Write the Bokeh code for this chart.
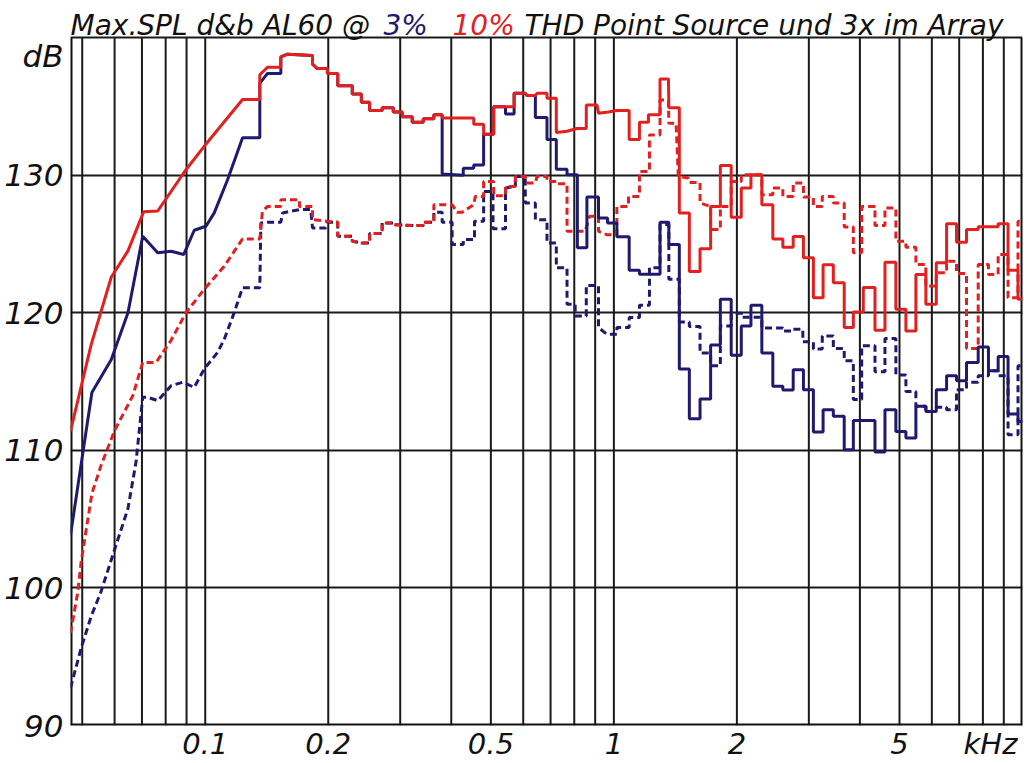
from bokeh.plotting import figure
from bokeh.models import FixedTicker, Label
from bokeh.embed import file_html
from bokeh.resources import INLINE

# ---- data: (frequency in kHz, level in dB) vertices ----
# red solid: 10 % THD, 3x in array
red_solid = [
    (0.0468, 111.4), (0.0526, 117.7), (0.0589, 122.6), (0.0647, 124.5), (0.0707, 127.35),
    (0.0765, 127.4), (0.0897, 130.4), (0.0994, 132.1), (0.1234, 135.5), (0.136, 135.5),
    (0.136, 137.3), (0.142, 137.85), (0.1531, 137.85), (0.1531, 138.6), (0.159, 138.8),
    (0.183, 138.7), (0.183, 138.07), (0.188, 137.75), (0.199, 137.75), (0.199, 137.4),
    (0.211, 137.4), (0.211, 136.5), (0.229, 136.5), (0.229, 135.9), (0.241, 135.9),
    (0.241, 135.3), (0.2525, 135.3), (0.2525, 134.7), (0.271, 134.7), (0.271, 134.9),
    (0.2885, 134.9), (0.2885, 134.6), (0.3035, 134.6), (0.3035, 134.25), (0.321, 134.25),
    (0.321, 133.85), (0.3416, 133.85), (0.3416, 134.1), (0.3626, 134.1), (0.3626, 134.4),
    (0.380, 134.4), (0.380, 134.15), (0.454, 134.15), (0.454, 133.7), (0.480, 133.7),
    (0.480, 132.98), (0.508, 132.98), (0.508, 134.97), (0.570, 134.97), (0.570, 135.95),
    (0.607, 135.95), (0.613, 135.8), (0.6425, 135.8), (0.6485, 135.95), (0.686, 135.95),
    (0.686, 135.6), (0.723, 135.6), (0.723, 133.1), (0.768, 133.2), (0.812, 133.4),
    (0.856, 133.4), (0.856, 135.1), (0.909, 135.1), (0.917, 134.5), (0.970, 134.6),
    (1.017, 134.7), (1.090, 134.7), (1.090, 132.6), (1.155, 132.6), (1.155, 133.85),
    (1.215, 133.85), (1.215, 134.4), (1.297, 134.4), (1.297, 137.0), (1.360, 137.0),
    (1.363, 134.9), (1.446, 134.9), (1.446, 127.25), (1.530, 127.25), (1.530, 123.0),
    (1.625, 123.0), (1.625, 124.65), (1.725, 124.65), (1.725, 127.73), (1.822, 127.73),
    (1.822, 130.7), (1.937, 130.7), (1.937, 126.94), (2.050, 126.94), (2.050, 129.07),
    (2.165, 129.07), (2.165, 130.03), (2.302, 130.03), (2.302, 127.86), (2.449, 127.86),
    (2.449, 125.37), (2.591, 125.37), (2.591, 124.76), (2.747, 124.76), (2.747, 125.54),
    (2.910, 125.54), (2.910, 124.0), (3.078, 124.0), (3.078, 121.1), (3.251, 121.1),
    (3.251, 123.5), (3.444, 123.5), (3.444, 122.19), (3.662, 122.19), (3.662, 118.93),
    (3.855, 118.93), (3.855, 120.06), (4.077, 120.06), (4.077, 121.83), (4.355, 121.83),
    (4.355, 118.73), (4.607, 118.73), (4.607, 123.68), (4.899, 123.68), (4.899, 120.25),
    (5.184, 120.25), (5.184, 118.68), (5.484, 118.68), (5.484, 122.79), (5.801, 122.79),
    (5.801, 120.62), (6.152, 120.62), (6.152, 123.63), (6.520, 123.63), (6.520, 126.48),
    (6.895, 126.48), (6.895, 125.13), (7.295, 125.13), (7.295, 126.05), (7.791, 126.05),
    (7.791, 126.26), (8.718, 126.26), (8.718, 126.48), (9.218, 126.48), (9.218, 123.1),
    (9.750, 123.1), (9.750, 120.98), (10.0, 120.98),
]

# blue solid: 3 % THD, 3x in array
blue_solid = [
    (0.0468, 103.84), (0.0528, 114.2), (0.0589, 116.6), (0.0647, 120.0), (0.0703, 125.56),
    (0.0765, 124.36), (0.0825, 124.47), (0.0886, 124.24), (0.094, 126.0), (0.1004, 126.29),
    (0.1052, 127.26), (0.1134, 129.67), (0.1234, 132.73), (0.136, 132.73), (0.136, 136.67),
    (0.142, 137.4), (0.1531, 137.4), (0.1531, 138.6), (0.159, 138.8), (0.183, 138.7),
    (0.183, 138.07), (0.188, 137.75), (0.199, 137.75), (0.199, 137.4), (0.211, 137.4),
    (0.211, 136.5), (0.229, 136.5), (0.229, 135.9), (0.241, 135.9), (0.241, 135.3),
    (0.2525, 135.3), (0.2525, 134.7), (0.271, 134.7), (0.271, 134.9), (0.2885, 134.9),
    (0.2885, 134.6), (0.3035, 134.6), (0.3035, 134.25), (0.321, 134.25), (0.321, 133.85),
    (0.3416, 133.85), (0.3416, 134.1), (0.3626, 134.1), (0.3626, 134.4), (0.380, 134.4),
    (0.380, 130.08), (0.428, 130.0), (0.428, 130.51), (0.454, 130.51), (0.454, 130.75),
    (0.480, 130.75), (0.480, 132.98), (0.508, 132.98), (0.508, 134.97), (0.543, 134.97),
    (0.543, 134.45), (0.570, 134.45), (0.570, 135.95), (0.607, 135.95), (0.613, 135.8),
    (0.6425, 135.8), (0.6425, 134.2), (0.686, 134.2), (0.686, 132.6), (0.723, 132.6),
    (0.723, 130.44), (0.768, 130.44), (0.768, 130.03), (0.814, 130.03), (0.814, 124.72),
    (0.859, 124.72), (0.859, 128.41), (0.917, 128.41), (0.917, 126.89), (0.965, 126.89),
    (0.965, 126.53), (1.017, 126.53), (1.017, 125.52), (1.090, 125.52), (1.090, 123.1),
    (1.155, 123.1), (1.155, 122.8), (1.297, 122.8), (1.297, 126.58), (1.363, 126.58),
    (1.363, 124.96), (1.446, 124.96), (1.446, 115.91), (1.530, 115.91), (1.530, 112.29),
    (1.625, 112.29), (1.625, 113.74), (1.725, 113.74), (1.725, 117.65), (1.822, 117.65),
    (1.822, 120.98), (1.937, 120.98), (1.937, 116.92), (2.050, 116.92), (2.050, 119.04),
    (2.165, 119.04), (2.165, 120.54), (2.302, 120.54), (2.302, 117.07), (2.449, 117.07),
    (2.449, 114.66), (2.591, 114.66), (2.591, 114.39), (2.747, 114.39), (2.747, 115.86),
    (2.910, 115.86), (2.910, 114.41), (3.078, 114.41), (3.078, 111.33), (3.251, 111.33),
    (3.251, 112.96), (3.444, 112.96), (3.444, 112.48), (3.662, 112.48), (3.662, 110.04),
    (3.855, 110.04), (3.855, 112.17), (4.355, 112.17), (4.355, 109.88), (4.607, 109.88),
    (4.607, 112.96), (4.899, 112.96), (4.899, 111.37), (5.184, 111.37), (5.184, 110.89),
    (5.484, 110.89), (5.484, 113.21), (5.801, 113.21), (5.801, 112.82), (6.152, 112.82),
    (6.152, 114.41), (6.520, 114.41), (6.520, 115.42), (6.895, 115.42), (6.895, 115.06),
    (7.295, 115.06), (7.295, 116.39), (7.791, 116.39), (7.791, 117.52), (8.255, 117.52),
    (8.255, 115.79), (8.718, 115.79), (8.718, 116.83), (9.218, 116.83), (9.218, 112.65),
    (9.750, 112.65), (9.750, 112.09), (10.0, 112.09),
]

# red dashed: 10 % THD, point source
red_dashed = [
    (0.0468, 96.72), (0.0488, 99.74), (0.0497, 101.91), (0.0528, 106.86), (0.0556, 108.91),
    (0.0600, 111.44), (0.0665, 113.98), (0.0703, 116.39), (0.0758, 116.39), (0.0825, 118.0),
    (0.0897, 120.01), (0.0994, 121.7), (0.1113, 123.39), (0.1234, 125.37), (0.136, 125.37),
    (0.138, 127.37), (0.142, 127.73), (0.1531, 127.73), (0.1531, 128.22), (0.170, 128.22),
    (0.170, 127.73), (0.183, 127.73), (0.183, 126.77), (0.199, 126.65), (0.211, 126.58),
    (0.211, 125.56), (0.229, 125.56), (0.229, 125.2), (0.241, 125.08), (0.2525, 125.08),
    (0.2525, 125.76), (0.271, 125.76), (0.271, 126.53), (0.2885, 126.53), (0.2885, 126.41),
    (0.321, 126.34), (0.3416, 126.34), (0.3416, 126.58), (0.3626, 126.58), (0.3626, 127.86),
    (0.402, 127.86), (0.4135, 127.3), (0.4253, 127.3), (0.454, 127.86), (0.458, 128.46),
    (0.480, 128.46), (0.480, 129.54), (0.508, 129.54), (0.508, 128.51), (0.543, 128.51),
    (0.543, 129.18), (0.574, 129.18), (0.574, 129.91), (0.607, 129.91), (0.613, 129.43),
    (0.6425, 129.43), (0.6485, 129.91), (0.686, 129.91), (0.686, 129.54), (0.723, 129.54),
    (0.723, 129.38), (0.768, 129.38), (0.768, 125.92), (0.851, 125.92), (0.872, 127.01),
    (0.917, 127.01), (0.917, 125.92), (0.961, 125.68), (1.017, 125.68), (1.017, 127.73),
    (1.086, 127.73), (1.086, 128.46), (1.155, 128.46), (1.155, 130.27), (1.222, 130.27),
    (1.222, 132.93), (1.297, 132.93), (1.297, 135.46), (1.360, 135.46), (1.363, 133.77),
    (1.420, 133.77), (1.438, 129.91), (1.521, 129.79), (1.530, 129.47), (1.625, 129.47),
    (1.625, 127.98), (1.725, 127.73), (1.725, 126.05), (1.822, 126.05), (1.822, 127.73),
    (1.937, 127.73), (1.937, 129.54), (2.050, 129.54), (2.050, 130.03), (2.302, 130.03),
    (2.302, 128.58), (2.449, 128.58), (2.449, 129.07), (2.591, 129.07), (2.591, 128.46),
    (2.747, 128.46), (2.747, 129.43), (2.910, 129.43), (2.910, 128.41), (3.078, 128.41),
    (3.078, 127.73), (3.236, 127.73), (3.236, 128.46), (3.444, 128.46), (3.444, 127.98),
    (3.662, 127.98), (3.662, 126.24), (3.855, 126.24), (3.855, 124.36), (4.041, 124.36),
    (4.041, 127.73), (4.355, 127.73), (4.355, 126.34), (4.607, 126.34), (4.607, 127.62),
    (4.899, 127.62), (4.899, 125.2), (5.184, 125.2), (5.184, 124.76), (5.484, 124.76),
    (5.484, 123.51), (5.801, 123.51), (5.801, 121.94), (6.152, 121.94), (6.152, 122.91),
    (6.520, 122.91), (6.520, 123.75), (6.895, 123.75), (6.895, 122.86), (7.295, 122.86),
    (7.295, 117.41), (7.791, 117.41), (7.791, 123.51), (8.255, 123.51), (8.255, 122.79),
    (8.718, 122.79), (8.718, 124.24), (9.218, 124.24), (9.218, 121.1), (9.750, 121.1),
    (9.750, 126.65), (10.0, 126.65),
]

# blue dashed: 3 % THD, point source
blue_dashed = [
    (0.0468, 92.74), (0.0497, 95.63), (0.0526, 97.95), (0.0556, 99.74), (0.0594, 102.39),
    (0.0647, 105.77), (0.0677, 109.15), (0.0703, 113.86), (0.0723, 113.86), (0.0765, 113.61),
    (0.0825, 114.7), (0.0881, 114.95), (0.094, 114.58), (0.0994, 115.91), (0.1072, 117.12),
    (0.1113, 118.08), (0.1177, 120.01), (0.1234, 121.82), (0.136, 121.82), (0.1368, 126.53),
    (0.142, 126.58), (0.1531, 126.58), (0.1546, 127.26), (0.170, 127.5), (0.1812, 127.5),
    (0.183, 126.17), (0.1972, 126.17), (0.199, 126.58), (0.211, 126.58), (0.211, 125.56),
    (0.229, 125.56), (0.229, 125.2), (0.241, 125.08), (0.2525, 125.08), (0.2525, 125.76),
    (0.271, 125.76), (0.271, 126.53), (0.2885, 126.53), (0.2885, 126.41), (0.321, 126.34),
    (0.3416, 126.34), (0.3416, 126.58), (0.3626, 126.58), (0.3626, 127.3), (0.380, 127.3),
    (0.380, 126.58), (0.402, 126.58), (0.402, 124.96), (0.428, 124.96), (0.428, 125.32),
    (0.456, 125.32), (0.456, 126.65), (0.480, 126.65), (0.480, 128.82), (0.506, 128.82),
    (0.506, 126.1), (0.543, 126.1), (0.543, 129.07), (0.574, 129.18), (0.574, 129.91),
    (0.607, 129.91), (0.607, 127.98), (0.6425, 127.98), (0.6425, 126.77), (0.686, 126.77),
    (0.686, 125.08), (0.723, 125.08), (0.723, 123.27), (0.768, 123.27), (0.768, 120.62),
    (0.804, 120.62), (0.804, 119.77), (0.856, 119.77), (0.856, 121.99), (0.917, 121.99),
    (0.917, 118.93), (0.961, 118.44), (1.017, 118.44), (1.017, 118.93), (1.090, 118.93),
    (1.090, 119.65), (1.155, 119.65), (1.155, 120.54), (1.222, 120.54), (1.222, 123.27),
    (1.297, 123.27), (1.297, 126.41), (1.363, 126.41), (1.363, 122.43), (1.446, 122.43),
    (1.446, 119.33), (1.530, 119.33), (1.530, 119.0), (1.625, 119.0), (1.625, 117.07),
    (1.725, 117.07), (1.725, 116.15), (1.822, 116.15), (1.822, 119.04), (1.937, 119.04),
    (1.937, 119.96), (2.050, 119.96), (2.050, 119.67), (2.302, 119.67), (2.302, 118.9),
    (2.591, 118.9), (2.591, 118.68), (2.747, 118.68), (2.747, 118.8), (2.900, 118.8),
    (2.900, 117.89), (3.078, 117.89), (3.078, 117.36), (3.236, 117.36), (3.236, 118.32),
    (3.444, 118.32), (3.444, 117.41), (3.662, 117.41), (3.662, 116.51), (3.855, 116.51),
    (3.855, 113.69), (4.041, 113.69), (4.041, 117.6), (4.355, 117.6), (4.355, 115.71),
    (4.607, 115.71), (4.607, 118.13), (4.899, 118.13), (4.899, 115.47), (5.184, 115.47),
    (5.184, 114.27), (5.484, 114.27), (5.484, 113.21), (5.801, 113.21), (5.801, 112.82),
    (6.152, 112.82), (6.152, 113.14), (6.520, 113.14), (6.520, 112.96), (6.895, 112.96),
    (6.895, 114.41), (7.295, 114.41), (7.295, 114.95), (7.791, 114.95), (7.791, 115.42),
    (8.255, 115.42), (8.255, 115.79), (8.718, 115.79), (8.718, 115.42), (9.218, 115.42),
    (9.218, 111.13), (9.750, 111.13), (9.750, 116.15), (10.0, 116.15),
]

F_MIN, F_MAX = 0.0468, 10.0
DB_MIN, DB_MAX = 90, 140
x_label_ticks = [0.1, 0.2, 0.5, 1, 2, 5, 8.35]
x_label_texts = ["0.1", "0.2", "0.5", "1", "2", "5", "kHz"]
x_grid_ticks = [0.05, 0.06, 0.07, 0.08, 0.09,
                0.1, 0.2, 0.3, 0.4, 0.5, 0.6, 0.7, 0.8, 0.9,
                1, 2, 3, 4, 5, 6, 7, 8, 9]
y_label_ticks = [90, 100, 110, 120, 130, 138.7]
y_label_texts = ["90", "100", "110", "120", "130", "dB"]
y_grid_ticks = [100, 110, 120, 130, 140]

RED = "#e3201f"
NAVY = "#1f1a6f"
INK = "#111111"
FONT = "DejaVu Sans"

# the frame reaches up to the top of the canvas so that the title strip
# (above the 140 dB border) can be drawn inside it
p = figure(width=1024, height=763, x_axis_type="log",
           x_range=(F_MIN, F_MAX), y_range=(DB_MIN, 142.70),
           output_backend="svg", toolbar_location=None,
           min_border_left=70, min_border_right=2,
           min_border_top=0, min_border_bottom=35)
p.background_fill_color = "white"
p.border_fill_color = "white"
p.outline_line_color = None

# horizontal grid (incl. the 140 dB top border)
p.ygrid.ticker = FixedTicker(ticks=y_grid_ticks)
p.ygrid.grid_line_color = "#1a1a1a"
p.ygrid.grid_line_width = 2
p.ygrid.grid_line_alpha = 1.0
p.xgrid.visible = False

# vertical grid lines limited to the 90..140 dB box
p.segment(x0=x_grid_ticks, y0=[DB_MIN] * len(x_grid_ticks),
          x1=x_grid_ticks, y1=[DB_MAX] * len(x_grid_ticks),
          line_color="#1a1a1a", line_width=2)
# box border on the frame edges (half of the width is clipped away)
p.segment(x0=[F_MIN, F_MAX, F_MIN], y0=[DB_MIN, DB_MIN, DB_MIN],
          x1=[F_MIN, F_MAX, F_MAX], y1=[DB_MAX, DB_MAX, DB_MIN],
          line_color=INK, line_width=4)

# axes
p.xaxis.ticker = FixedTicker(ticks=x_label_ticks)
p.xaxis.major_label_overrides = dict(zip(x_label_ticks, x_label_texts))
p.yaxis.ticker = FixedTicker(ticks=y_label_ticks)
p.yaxis.major_label_overrides = dict(zip(y_label_ticks, y_label_texts))
for ax in (p.xaxis, p.yaxis):
    ax.axis_line_color = None
    ax.major_tick_line_color = None
    ax.minor_tick_line_color = None
    ax.major_tick_in = 0
    ax.major_tick_out = 0
    ax.minor_tick_out = 0
    ax.major_label_text_font = FONT
    ax.major_label_text_font_style = "italic"
    ax.major_label_text_color = INK
p.yaxis.major_label_text_font_size = "31px"
p.yaxis.major_label_standoff = 7
p.xaxis.major_label_text_font_size = "29px"
p.xaxis.major_label_standoff = 1

# curves
def xy(pts):
    return [a for a, _ in pts], [b for _, b in pts]

bx, by = xy(blue_dashed)
p.line(bx, by, line_color=NAVY, line_width=3, line_dash="7 4")
rx, ry = xy(red_dashed)
p.line(rx, ry, line_color=RED, line_width=3, line_dash="7 4")
bx, by = xy(blue_solid)
p.line(bx, by, line_color=NAVY, line_width=3)
rx, ry = xy(red_solid)
p.line(rx, ry, line_color=RED, line_width=3)

# multi-coloured title (screen units, relative to the frame's bottom-left)
title_parts = [("Max.SPL d&b AL60 @", INK, 0),
               ("3%", NAVY, 313),
               ("10%", RED, 382),
               ("THD Point Source und 3x im Array", INK, 454)]
for txt, col, xs in title_parts:
    p.add_layout(Label(x=xs, y=700, x_units="screen", y_units="screen", text=txt,
                       text_color=col, text_font=FONT, text_font_style="italic",
                       text_font_size="28px", text_baseline="alphabetic", text_align="left"))

open("out.html", "w").write(file_html(p, INLINE))
